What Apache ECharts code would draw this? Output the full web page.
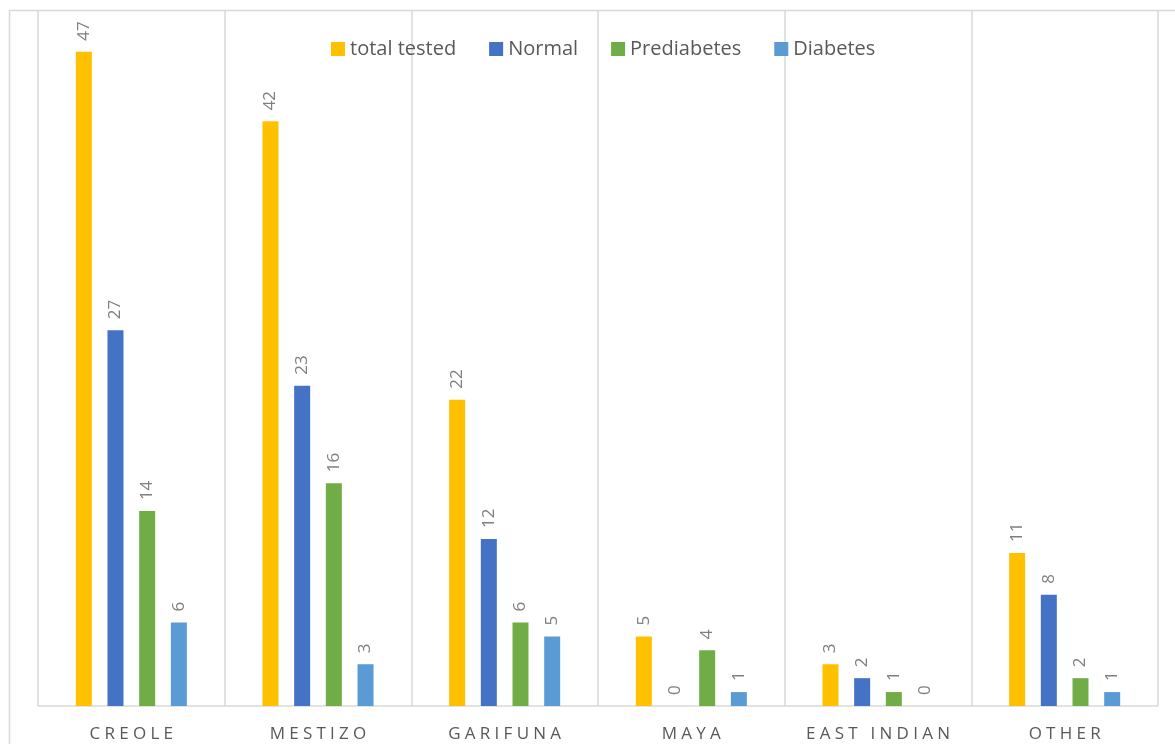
<!DOCTYPE html>
<html><head><meta charset="utf-8">
<script src="https://cdn.jsdelivr.net/npm/echarts@6/dist/echarts.min.js"></script>
<style>html,body{margin:0;padding:0;background:#fff}#c{width:1175px;height:744px}</style>
</head><body><div id="c"></div>
<script>
const categories = ['Creole', 'Mestizo', 'Garifuna', 'Maya', 'East Indian', 'Other'];
const totalTested = [47, 42, 22, 5, 3, 11];
const normal = [27, 23, 12, 0, 2, 8];
const prediabetes = [14, 16, 6, 4, 1, 2];
const diabetes = [6, 3, 5, 1, 0, 1];

const font = 'Open Sans';
const chart = echarts.init(document.getElementById('c'));
function mk(name, data, color) {
  return {
    name, type: 'bar', data, barWidth: 16, barGap: '98%',
    itemStyle: { color },
    label: { show: true, position: 'top', rotate: 90, align: 'left', verticalAlign: 'middle',
      distance: 11, color: '#7f7f7f', fontSize: 17, fontFamily: font }
  };
}
chart.setOption({
  animation: false,
  graphic: [{ type: 'rect', shape: { x: 9.5, y: 10.5, width: 1200, height: 800 },
    style: { fill: 'none', stroke: '#d9d9d9', lineWidth: 1.5 }, z: -1 }],
  legend: {
    top: 34, left: 326, itemWidth: 14, itemHeight: 14, itemGap: 33, icon: 'rect',
    textStyle: { color: '#595959', fontSize: 20, fontFamily: font }
  },
  grid: { left: 38, right: 17, top: 10, bottom: 38, containLabel: false },
  xAxis: {
    type: 'category', data: categories,
    axisLine: { lineStyle: { color: '#d9d9d9', width: 1.5 } },
    axisTick: { show: false },
    splitLine: { show: true, interval: 0, lineStyle: { color: '#d9d9d9', width: 1.5 } },
    axisLabel: { interval: 0, hideOverlap: false, color: '#595959', fontSize: 17, fontFamily: font, margin: 20,
      formatter: v => v.toUpperCase().split('').join('\u2005') }
  },
  yAxis: { type: 'value', min: 0, max: 50, show: false, splitLine: { show: false } },
  series: [
    mk('total tested', totalTested, '#FFC000'),
    mk('Normal', normal, '#4472C4'),
    mk('Prediabetes', prediabetes, '#70AD47'),
    mk('Diabetes', diabetes, '#5B9BD5')
  ]
});
</script></body></html>
